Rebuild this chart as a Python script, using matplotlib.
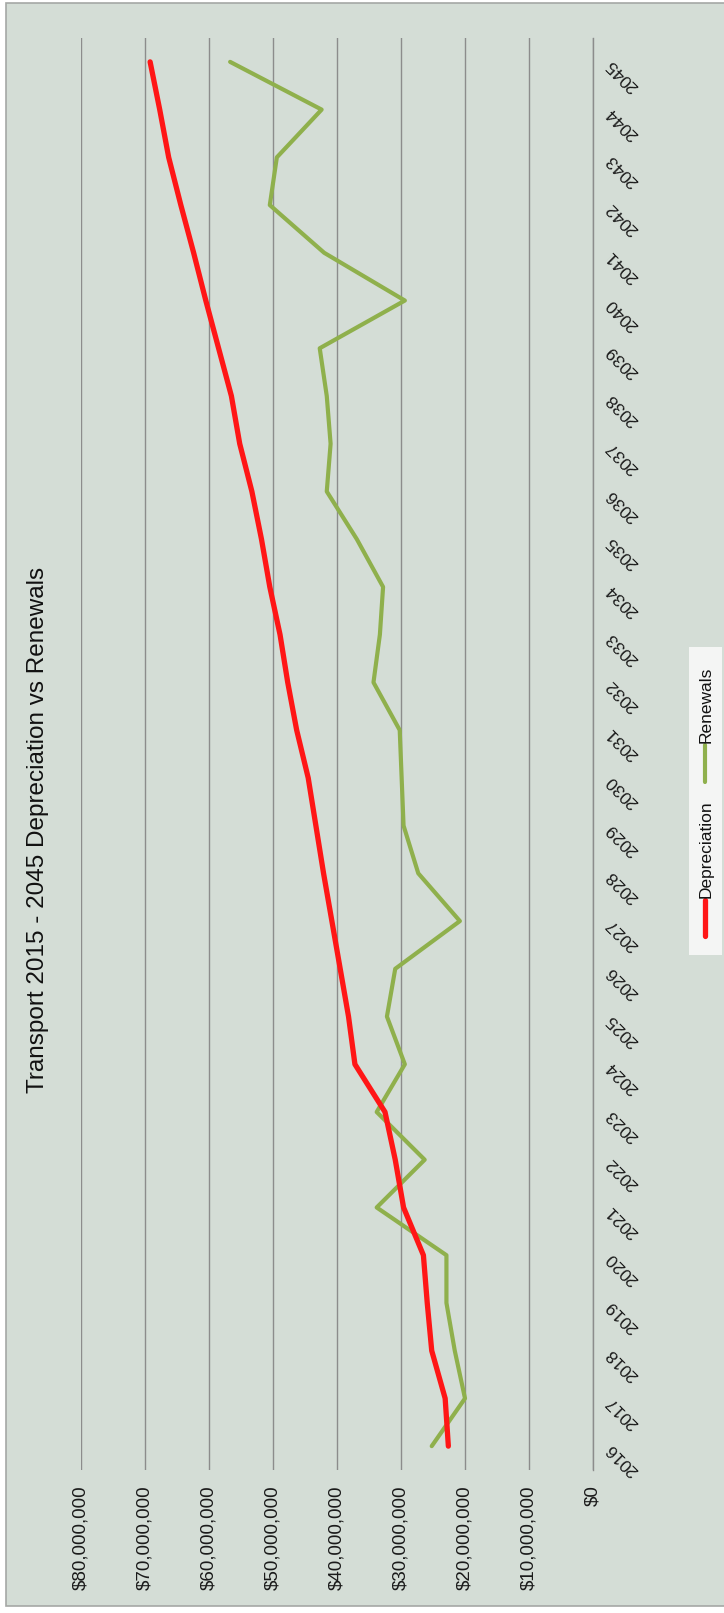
import matplotlib
matplotlib.use("Agg")
import matplotlib.pyplot as plt
import matplotlib.patches as mpatches
from matplotlib.lines import Line2D
from matplotlib.ticker import FuncFormatter

plt.rcParams["font.family"] = ["Liberation Sans", "DejaVu Sans"]

years = [2016, 2017, 2018, 2019, 2020, 2021, 2022, 2023, 2024, 2025,
         2026, 2027, 2028, 2029, 2030, 2031, 2032, 2033, 2034, 2035,
         2036, 2037, 2038, 2039, 2040, 2041, 2042, 2043, 2044, 2045]

# $ millions
depreciation = [22.6, 23.1, 25.2, 25.9, 26.5, 29.6, 30.9, 32.5, 37.2, 38.2,
                39.5, 40.8, 42.1, 43.3, 44.5, 46.3, 47.7, 48.9, 50.5, 51.8,
                53.3, 55.2, 56.5, 58.5, 60.5, 62.4, 64.4, 66.3, 67.7, 69.2]
renewals = [25.2, 20.0, 21.6, 22.9, 22.9, 33.8, 26.3, 33.8, 29.4, 32.2,
            30.9, 20.8, 27.3, 29.6, 29.9, 30.2, 34.3, 33.3, 32.8, 36.9,
            41.6, 41.0, 41.6, 42.7, 29.4, 42.0, 50.5, 49.4, 42.4, 56.7]

value_ticks = [0, 10, 20, 30, 40, 50, 60, 70, 80]

title = "Transport 2015 - 2045 Depreciation vs Renewals"
series_names = ["Depreciation", "Renewals"]
red = "#ff1616"
green = "#8fb04c"
bg = "#d4ddd6"

W, H = 724, 1613
fig = plt.figure(figsize=(W / 100, H / 100), dpi=100, facecolor="white")

def fx(px):
    return px / W

def fy(py):
    return 1 - py / H

# chart frame
fig.add_artist(mpatches.Rectangle((fx(6), fy(1606)), fx(730) - fx(6), fy(3) - fy(1606),
                                  transform=fig.transFigure, facecolor=bg,
                                  edgecolor="#a5a8a5", lw=1.2, zorder=0))

# chart is laid out sideways: years run up the page, values run right-to-left
ax = fig.add_axes([fx(81), fy(1470), fx(593) - fx(81), fy(38) - fy(1470)])
ax.set_facecolor("none")

dep = [v * 1e6 for v in depreciation]
ren = [v * 1e6 for v in renewals]
ax.plot(dep, years, color=red, lw=3.8, solid_joinstyle="round",
        solid_capstyle="round", zorder=4)
ax.plot(ren, years, color=green, lw=3.0, solid_joinstyle="round",
        solid_capstyle="round", zorder=3)

ax.set_xlim(80e6, 0)
ax.set_ylim(years[0] - 0.5, years[-1] + 0.5)

ax.set_xticks([v * 1e6 for v in value_ticks])
ax.xaxis.set_major_formatter(FuncFormatter(lambda v, p: f"${v:,.0f}"))
for lbl in ax.get_xticklabels():
    lbl.set_rotation(90)
    lbl.set_rotation_mode("anchor")
    lbl.set_ha("right")
    lbl.set_va("center")
ax.tick_params(axis="x", length=0, pad=11, labelsize=13.5, labelcolor="#1a1a1a")

ax.yaxis.tick_right()
ax.set_yticks(years)
ax.set_yticklabels([str(y) for y in years], rotation=135, rotation_mode="anchor",
                   ha="right", va="center")
ax.tick_params(axis="y", length=0, pad=11, labelsize=12.5, labelcolor="#1a1a1a")

ax.grid(axis="x", color="#8c8c8c", lw=1.0)
ax.set_axisbelow(True)
for side in ["left", "top", "bottom"]:
    ax.spines[side].set_visible(False)
ax.spines["right"].set_color("#8c8c8c")
ax.spines["right"].set_linewidth(1.0)

fig.text(fx(38), fy(830), title, rotation=90, ha="center", va="center",
         fontsize=17.5, color="#111111")

# legend, drawn sideways to follow the chart
fig.add_artist(mpatches.Rectangle((fx(689), fy(955)), fx(722) - fx(689), fy(647) - fy(955),
                                  transform=fig.transFigure, facecolor="#f4f5f4",
                                  edgecolor="none", zorder=2))
fig.add_artist(Line2D([fx(705), fx(705)], [fy(936), fy(900)], transform=fig.transFigure,
                      color=red, lw=3.8, solid_capstyle="round", zorder=3))
fig.text(fx(706), fy(898), series_names[0], rotation=90, ha="center", va="bottom",
         fontsize=12.5, color="#111111", zorder=3)
fig.add_artist(Line2D([fx(705), fx(705)], [fy(782), fy(745)], transform=fig.transFigure,
                      color=green, lw=3.0, solid_capstyle="round", zorder=3))
fig.text(fx(706), fy(743), series_names[1], rotation=90, ha="center", va="bottom",
         fontsize=12.5, color="#111111", zorder=3)

fig.savefig("out.png", dpi=100, facecolor="white")
